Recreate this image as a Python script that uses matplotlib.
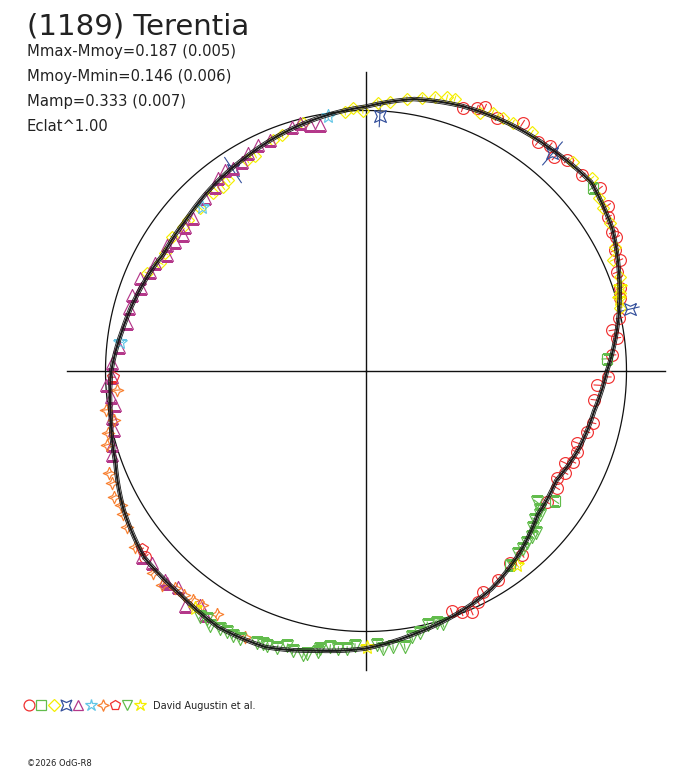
import numpy as np
import matplotlib
matplotlib.use("Agg")
import matplotlib.pyplot as plt
from matplotlib.path import Path

# ---------------- text ----------------
TITLE = "(1189) Terentia"
INFO_LINES = ["Mmax-Mmoy=0.187 (0.005)", "Mmoy-Mmin=0.146 (0.006)",
              "Mamp=0.333 (0.007)", "Eclat^1.00"]
OBSERVER = "David Augustin et al."
COPYRIGHT = "\u00a92026 OdG-R8"

# ---------------- fitted curve (angle deg, relative brightness radius) ----------------
curve_angle = [0, 10, 20, 30, 40, 50, 60, 70, 80, 90, 100, 110, 120, 130, 140, 150, 160, 170,
               180, 190, 200, 210, 220, 230, 240, 250, 260, 270, 280, 290, 300, 310, 320, 330, 340, 350]
curve_radius = [0.925, 0.980, 1.035, 1.092, 1.128, 1.110, 1.097, 1.082, 1.060, 1.015, 0.990, 0.965,
                0.940, 0.921, 0.902, 0.898, 0.922, 0.947, 0.978, 0.995, 1.024, 1.073, 1.112, 1.115,
                1.135, 1.128, 1.090, 1.065, 1.028, 0.997, 0.965, 0.915, 0.860, 0.843, 0.870, 0.889]
curve_envelope = 0.007

# ---------------- observations ----------------
red_circle_ang = [69.8, 67.1, 65.7, 62.7, 57.7, 53.1, 50.8, 48.6, 46.4, 42.1, 38.0, 34.4, 32.4, 29.4,
                  28.1, 25.9, 23.6, 21.5, 18.1, 16.0, 11.8, 9.4, 7.5, 3.7, 358.6, 356.5, 352.8, 347.1,
                  344.6, 341.2, 339.0, 336.3, 335.2, 332.9, 330.7, 328.5, 324.1, 310.3, 306.9, 302.3,
                  297.9, 295.9, 293.7, 291.6, 289.6, 220.1]
red_circle_r = [1.074, 1.094, 1.110, 1.095, 1.125, 1.097, 1.117, 1.094, 1.117, 1.120, 1.138, 1.124, 1.102,
                1.086, 1.090, 1.061, 1.062, 1.034, 1.024, 1.013, 0.994, 0.959, 0.973, 0.948, 0.928, 0.890,
                0.884, 0.892, 0.878, 0.854, 0.866, 0.866, 0.840, 0.857, 0.839, 0.858, 0.856, 0.924, 0.920,
                0.947, 0.958, 0.984, 1.009, 0.997, 0.980, 1.107]

green_square_ang = [39.0, 2.9, 325.5, 306.6]
green_square_r = [1.119, 0.925, 0.879, 0.926]

yellow_diamond_ang = [94.6, 92.8, 90.7, 87.5, 84.9, 81.5, 78.4, 75.9, 73.5, 71.9, 66.2, 63.9, 61.6, 59.4,
                      55.2, 45.3, 40.5, 36.5, 34.5, 31.2, 26.5, 24.2, 20.3, 17.0, 14.0, 104.2, 109.6,
                      111.9, 117.2, 119.4, 125.8, 127.9, 130.7, 135.5, 139.7, 141.9, 145.4, 149.6,
                      152.3, 155.9]
yellow_diamond_r = [0.996, 1.009, 1.000, 1.030, 1.035, 1.055, 1.071, 1.083, 1.095, 1.100, 1.084, 1.105,
                    1.102, 1.108, 1.115, 1.127, 1.139, 1.115, 1.102, 1.096, 1.068, 1.038, 1.038, 1.020,
                    1.005, 0.984, 0.960, 0.954, 0.930, 0.928, 0.903, 0.893, 0.899, 0.891, 0.894, 0.895,
                    0.903, 0.893, 0.891, 0.919]

blue_star_ang = [86.9, 123.5, 49.4, 13.2]
blue_star_r = [0.982, 0.925, 1.100, 1.039]
blue_star_err = [0.045, 0.060, 0.060, 0.040]

magenta_tri_ang = [106.9, 104.9, 102.8, 100.6, 112.6, 115.5, 118.4, 120.7, 123.2, 125.1, 127.5, 129.5,
                   132.9, 138.5, 141.5, 143.4, 146.0, 147.7, 149.8, 152.9, 155.4, 157.6, 159.7, 162.0,
                   165.1, 168.6, 174.4, 178.2, 181.4, 183.1, 185.8, 187.7, 190.5, 193.2, 196.3, 198.3,
                   219.8, 221.9, 226.1, 226.8, 229.0, 232.3, 234.6, 236.6]
magenta_tri_r = [0.977, 0.987, 0.970, 0.959, 0.962, 0.963, 0.953, 0.935, 0.933, 0.944, 0.935, 0.913,
                 0.909, 0.888, 0.890, 0.877, 0.886, 0.906, 0.886, 0.912, 0.914, 0.940, 0.919, 0.946,
                 0.940, 0.934, 0.951, 0.974, 0.974, 0.998, 0.982, 0.974, 0.990, 0.992, 1.014, 1.029,
                 1.117, 1.106, 1.115, 1.118, 1.101, 1.138, 1.103, 1.124]

cyan_star_ang = [98.5, 135.0, 173.3]
cyan_star_r = [0.988, 0.889, 0.949]

orange_star_ang = [184.4, 188.5, 191.0, 193.5, 195.9, 201.6, 203.8, 206.5, 208.6, 210.6, 213.1, 217.3,
                   223.5, 226.4, 228.6, 230.8, 232.9, 235.0, 238.6, 245.6]
orange_star_r = [0.957, 1.011, 0.987, 1.017, 1.032, 1.063, 1.064, 1.083, 1.073, 1.082, 1.094, 1.113,
                 1.125, 1.133, 1.108, 1.108, 1.100, 1.095, 1.095, 1.123]

red_pentagon_ang = [181.4, 218.5]
red_pentagon_r = [0.972, 1.100]

green_tri_ang = [236.0, 237.4, 238.6, 240.6, 242.0, 243.4, 244.9, 248.2, 249.4, 250.3, 252.2, 254.0,
                 255.4, 257.5, 258.3, 260.3, 260.6, 262.6, 264.3, 266.1, 267.7, 272.3, 273.5, 275.6,
                 278.0, 279.8, 281.6, 283.7, 285.7, 286.9, 322.5, 321.4, 320.4, 318.6, 316.8, 316.5,
                 315.0, 313.1, 311.3, 309.6]
green_tri_r = [1.137, 1.132, 1.149, 1.139, 1.136, 1.139, 1.138, 1.123, 1.121, 1.123, 1.115, 1.100,
               1.112, 1.115, 1.111, 1.096, 1.083, 1.070, 1.074, 1.071, 1.058, 1.051, 1.071, 1.066,
               1.068, 1.038, 1.025, 1.002, 1.003, 1.017, 0.825, 0.853, 0.865, 0.863, 0.878, 0.902,
               0.899, 0.902, 0.912, 0.914]

yellow_star_ang = [307.9, 270.2, 234.2, 18.3, 15.9]
yellow_star_r = [0.942, 1.058, 1.120, 1.025, 1.010]

# ---------------- styles ----------------
STAR4 = Path([(0, 1), (0.3, 0.3), (1, 0), (0.3, -0.3), (0, -1), (-0.3, -0.3), (-1, 0), (-0.3, 0.3), (0, 1)])
XSTAR4 = Path([(1, 1), (0, 0.55), (-1, 1), (-0.55, 0), (-1, -1), (0, -0.55), (1, -1), (0.55, 0), (1, 1)])

RED = "#f03030"
GREEN = "#62bc4c"
YELLOW = "#f4ee00"
BLUE = "#34509c"
MAGENTA = "#b4388a"
CYAN = "#62c6e6"
ORANGE = "#f88030"

series = [
    (red_circle_ang, red_circle_r, "o", RED, 8.5, 0.015),
    (green_square_ang, green_square_r, "s", GREEN, 7.5, 0.02),
    (yellow_diamond_ang, yellow_diamond_r, "D", YELLOW, 6.5, 0.012),
    (blue_star_ang, blue_star_r, XSTAR4, BLUE, 8.5, blue_star_err),
    (magenta_tri_ang, magenta_tri_r, "^", MAGENTA, 8.0, 0.0),
    (cyan_star_ang, cyan_star_r, "*", CYAN, 10, 0.01),
    (orange_star_ang, orange_star_r, STAR4, ORANGE, 9, 0.015),
    (red_pentagon_ang, red_pentagon_r, "p", RED, 8.5, 0.01),
    (green_tri_ang, green_tri_r, "v", GREEN, 8.0, 0.012),
    (yellow_star_ang, yellow_star_r, "*", YELLOW, 10, 0.015),
]

W, H = 688, 768
CX, CY = 366, 371
UNIT = 260.5
R_MAX = 1.2
AXIS_LEN = 1.146

fig = plt.figure(figsize=(W / 100, H / 100), dpi=100)
fig.patch.set_facecolor("white")
rad_px = R_MAX * UNIT
ax = fig.add_axes([(CX - rad_px) / W, (H - CY - rad_px) / H, 2 * rad_px / W, 2 * rad_px / H],
                  projection="polar")
ax.set_ylim(0, R_MAX)
ax.grid(False)
ax.set_xticks([])
ax.set_yticks([])
ax.spines["polar"].set_visible(False)

# cross axes
for a in (0, 0.5 * np.pi, np.pi, 1.5 * np.pi):
    ax.plot([a, a], [0, AXIS_LEN], color="#111111", lw=1.0, zorder=1)

# reference circle
ref = np.linspace(0, 2 * np.pi, 721)
ax.plot(ref, np.ones_like(ref), color="#111111", lw=0.9, zorder=1)

# observations
for ang, r, mk, col, ms, err in series:
    th = np.deg2rad(ang)
    ax.errorbar(th, r, yerr=err, fmt="none", ecolor=col, elinewidth=0.8, capsize=0, zorder=2)
    ax.plot(th, r, ls="none", marker=mk, mfc="none", mec=col, ms=ms, mew=0.85, zorder=3)

# fitted curve and envelope
th_c = np.deg2rad(np.array(curve_angle + [curve_angle[0] + 360], dtype=float))
r_c = np.array(curve_radius + [curve_radius[0]])
for dr, lw in ((0.0, 1.5), (curve_envelope, 0.6), (-curve_envelope, 0.6)):
    ln, = ax.plot(th_c, r_c + dr, color="#1a1a1a", lw=lw, zorder=4)
    ln.get_path()._interpolation_steps = 16

# texts
fig.text(27 / W, 1 - 35 / H, TITLE, fontsize=21, color="#222222", va="baseline", family="DejaVu Sans")
for i, s in enumerate(INFO_LINES):
    fig.text(27 / W, 1 - (56 + 25 * i) / H, s, fontsize=10.6, color="#222222", va="baseline",
             family="DejaVu Sans")

# observer legend row
lax = fig.add_axes([0, 0, 1, 1])
lax.set_xlim(0, W)
lax.set_ylim(H, 0)
lax.axis("off")
for i, (ang, r, mk, col, ms, err) in enumerate(series):
    lax.plot(29 + 12.3 * i, 705, ls="none", marker=mk, mfc="none", mec=col, ms=ms * 0.92, mew=0.9)
lax.text(153, 709, OBSERVER, fontsize=7, color="#222222", va="baseline", family="DejaVu Sans")
lax.text(27, 766, COPYRIGHT, fontsize=6, color="#222222", va="baseline", family="DejaVu Sans")

fig.savefig("out.png", dpi=100, facecolor="white")
